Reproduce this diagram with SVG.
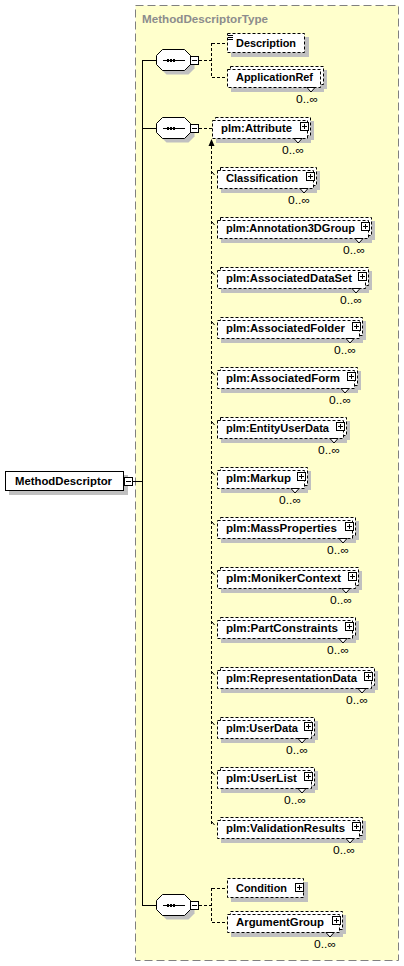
<svg xmlns="http://www.w3.org/2000/svg" xmlns:xlink="http://www.w3.org/1999/xlink" width="404" height="966" viewBox="0 0 404 966">
<style>
.sh{fill:#c0c0c0}
.bx{fill:#fff;stroke:#000;stroke-dasharray:3,2}
.sb{fill:#fff;stroke:#000}
.t{font-family:"Liberation Sans",Arial,sans-serif;font-size:11px;font-weight:bold;fill:#000}
.m{font-family:"Liberation Sans",Arial,sans-serif;font-size:11px;fill:#000}
.dc{fill:none;stroke:#000;stroke-dasharray:3,2}
.sc{fill:none;stroke:#000}
.v{fill:#fff;stroke:#000}
.ti{font-family:"Liberation Sans",Arial,sans-serif;font-size:11px;font-weight:bold;fill:#8c8c8c}
</style>
<defs>
<g id="plus" shape-rendering="crispEdges"><rect x="0.5" y="0.5" width="8" height="8" fill="#fff" stroke="#000"/><path d="M2 4.5H7M4.5 2V7" stroke="#000"/></g>
<g id="minus" shape-rendering="crispEdges"><rect x="0.5" y="0.5" width="8" height="8" fill="#fff" stroke="#000"/><path d="M2 4.5H7" stroke="#000"/></g>
<g id="seq">
<polygon class="sh" points="160.5,-0.5 166.5,-6.5 188.5,-6.5 194.5,-0.5 194.5,8.5 188.5,14.5 166.5,14.5 160.5,8.5"/>
<polygon class="sb" points="156.5,-4.5 162.5,-10.5 184.5,-10.5 190.5,-4.5 190.5,4.5 184.5,10.5 162.5,10.5 156.5,4.5"/>
<path d="M163 0.5H185" stroke="#000"/>
<rect x="167" y="-1" width="2" height="3"/><rect x="170" y="-1" width="2" height="3"/><rect x="173" y="-1" width="2" height="3"/>
<use xlink:href="#minus" x="190" y="-4"/>
</g>
</defs>

<rect x="135.5" y="5.5" width="263" height="955" fill="#ffffcc" stroke="#808080" stroke-dasharray="8,4"/>
<text class="ti" x="142" y="23" textLength="126" lengthAdjust="spacingAndGlyphs">MethodDescriptorType</text>

<g id="connectors">
<path class="sc" shape-rendering="crispEdges" d="M133 481.5H142.5M142.5 60V906M142 60.5H157M142 128.5H157M142 905.5H157"/>
<path class="dc" shape-rendering="crispEdges" d="M199 60.5H211.5M211.5 43V78M211.5 43.5H227M211.5 77.5H227"/>
<path class="dc" shape-rendering="crispEdges" d="M199 128.5H212M211.5 146V824"/>
<path class="dc" shape-rendering="crispEdges" d="M199 905.5H211.5M211.5 888V923M211.5 888.5H227M211.5 922.5H227"/>
<polygon points="211.5,139 208.5,146 214.5,146"/>
<path d="M213.5 134.5L217 131" stroke="#000"/>
<polygon points="219,129 214.5,130.5 217.5,133.5"/>
<path stroke="#000" d="M212 172L214.5 175M212 222L214.5 225M212 272L214.5 275M212 322L214.5 325M212 372L214.5 375M212 422L214.5 425M212 472L214.5 475M212 522L214.5 525M212 572L214.5 575M212 622L214.5 625M212 672L214.5 675M212 722L214.5 725M212 772L214.5 775M212 822L214.5 825"/>
</g>

<g id="MethodDescriptor">
<rect class="sh" x="9" y="475" width="119" height="20"/>
<rect class="sb" x="5.5" y="471.5" width="118" height="19"/>
<text class="t" x="15" y="485" textLength="97" lengthAdjust="spacingAndGlyphs">MethodDescriptor</text>
<use xlink:href="#minus" x="124" y="477"/>
</g>

<g id="seq1"><use xlink:href="#seq" y="60"/></g>
<g id="seq2"><use xlink:href="#seq" y="128"/></g>
<g id="seq3"><use xlink:href="#seq" y="905"/></g>

<g id="Description">
<rect class="sh" x="231" y="37" width="78" height="20"/>
<rect class="bx" x="227.5" y="33.5" width="77" height="19"/>
<path d="M228 35.5H233M228 37.5H233M228 39.5H233" stroke="#000" shape-rendering="crispEdges"/>
<text class="t" x="236" y="47" textLength="60" lengthAdjust="spacingAndGlyphs">Description</text>
</g>

<g id="ApplicationRef">
<rect class="sh" x="231" y="73" width="93" height="19"/><rect class="sh" x="234" y="70" width="93" height="19"/>
<rect class="bx" x="230.5" y="66.5" width="93" height="18"/><rect class="bx" x="227.5" y="69.5" width="93" height="18"/>
<text class="t" x="236" y="81" textLength="77" lengthAdjust="spacingAndGlyphs">ApplicationRef</text>
<polygon class="v" points="307,87.5 311,92 315,87.5"/>
<text class="m" x="296" y="103" textLength="22" lengthAdjust="spacingAndGlyphs">0..∞</text>
</g>

<g id="Attribute">
<rect class="sh" x="216" y="124" width="95" height="19"/><rect class="sh" x="219" y="121" width="95" height="19"/>
<rect class="bx" x="215.5" y="117.5" width="95" height="18"/><rect class="bx" x="212.5" y="120.5" width="95" height="18"/>
<text class="t" x="221" y="132" textLength="71" lengthAdjust="spacingAndGlyphs">plm:Attribute</text>
<use xlink:href="#plus" x="300" y="122"/>
<polygon class="v" points="294,138.5 298,143 302,138.5"/>
<text class="m" x="282" y="154" textLength="22" lengthAdjust="spacingAndGlyphs">0..∞</text>
</g>

<g id="Classification">
<rect class="sh" x="221" y="174" width="96" height="19"/><rect class="sh" x="224" y="171" width="96" height="19"/>
<rect class="bx" x="220.5" y="167.5" width="96" height="18"/><rect class="bx" x="217.5" y="170.5" width="96" height="18"/>
<text class="t" x="226" y="182" textLength="72" lengthAdjust="spacingAndGlyphs">Classification</text>
<use xlink:href="#plus" x="306" y="172"/>
<polygon class="v" points="300,188.5 304,193 308,188.5"/>
<text class="m" x="288" y="204" textLength="22" lengthAdjust="spacingAndGlyphs">0..∞</text>
</g>

<g id="Annotation3DGroup">
<rect class="sh" x="221" y="224" width="151" height="19"/><rect class="sh" x="224" y="221" width="151" height="19"/>
<rect class="bx" x="220.5" y="217.5" width="151" height="18"/><rect class="bx" x="217.5" y="220.5" width="151" height="18"/>
<text class="t" x="226" y="232" textLength="129" lengthAdjust="spacingAndGlyphs">plm:Annotation3DGroup</text>
<use xlink:href="#plus" x="361" y="222"/>
<polygon class="v" points="355,238.5 359,243 363,238.5"/>
<text class="m" x="343" y="254" textLength="22" lengthAdjust="spacingAndGlyphs">0..∞</text>
</g>

<g id="AssociatedDataSet">
<rect class="sh" x="221" y="274" width="148" height="19"/><rect class="sh" x="224" y="271" width="148" height="19"/>
<rect class="bx" x="220.5" y="267.5" width="148" height="18"/><rect class="bx" x="217.5" y="270.5" width="148" height="18"/>
<text class="t" x="226" y="282" textLength="126" lengthAdjust="spacingAndGlyphs">plm:AssociatedDataSet</text>
<use xlink:href="#plus" x="358" y="272"/>
<polygon class="v" points="352,288.5 356,293 360,288.5"/>
<text class="m" x="340" y="304" textLength="22" lengthAdjust="spacingAndGlyphs">0..∞</text>
</g>

<g id="AssociatedFolder">
<rect class="sh" x="221" y="324" width="142" height="19"/><rect class="sh" x="224" y="321" width="142" height="19"/>
<rect class="bx" x="220.5" y="317.5" width="142" height="18"/><rect class="bx" x="217.5" y="320.5" width="142" height="18"/>
<text class="t" x="226" y="332" textLength="119" lengthAdjust="spacingAndGlyphs">plm:AssociatedFolder</text>
<use xlink:href="#plus" x="352" y="322"/>
<polygon class="v" points="346,338.5 350,343 354,338.5"/>
<text class="m" x="334" y="354" textLength="22" lengthAdjust="spacingAndGlyphs">0..∞</text>
</g>

<g id="AssociatedForm">
<rect class="sh" x="221" y="374" width="137" height="19"/><rect class="sh" x="224" y="371" width="137" height="19"/>
<rect class="bx" x="220.5" y="367.5" width="137" height="18"/><rect class="bx" x="217.5" y="370.5" width="137" height="18"/>
<text class="t" x="226" y="382" textLength="114" lengthAdjust="spacingAndGlyphs">plm:AssociatedForm</text>
<use xlink:href="#plus" x="347" y="372"/>
<polygon class="v" points="341,388.5 345,393 349,388.5"/>
<text class="m" x="329" y="404" textLength="22" lengthAdjust="spacingAndGlyphs">0..∞</text>
</g>

<g id="EntityUserData">
<rect class="sh" x="221" y="424" width="126" height="19"/><rect class="sh" x="224" y="421" width="126" height="19"/>
<rect class="bx" x="220.5" y="417.5" width="126" height="18"/><rect class="bx" x="217.5" y="420.5" width="126" height="18"/>
<text class="t" x="226" y="432" textLength="103" lengthAdjust="spacingAndGlyphs">plm:EntityUserData</text>
<use xlink:href="#plus" x="336" y="422"/>
<polygon class="v" points="330,438.5 334,443 338,438.5"/>
<text class="m" x="318" y="454" textLength="22" lengthAdjust="spacingAndGlyphs">0..∞</text>
</g>

<g id="Markup">
<rect class="sh" x="221" y="474" width="87" height="19"/><rect class="sh" x="224" y="471" width="87" height="19"/>
<rect class="bx" x="220.5" y="467.5" width="87" height="18"/><rect class="bx" x="217.5" y="470.5" width="87" height="18"/>
<text class="t" x="226" y="482" textLength="65" lengthAdjust="spacingAndGlyphs">plm:Markup</text>
<use xlink:href="#plus" x="297" y="472"/>
<polygon class="v" points="291,488.5 295,493 299,488.5"/>
<text class="m" x="279" y="504" textLength="22" lengthAdjust="spacingAndGlyphs">0..∞</text>
</g>

<g id="MassProperties">
<rect class="sh" x="221" y="524" width="135" height="19"/><rect class="sh" x="224" y="521" width="135" height="19"/>
<rect class="bx" x="220.5" y="517.5" width="135" height="18"/><rect class="bx" x="217.5" y="520.5" width="135" height="18"/>
<text class="t" x="226" y="532" textLength="111" lengthAdjust="spacingAndGlyphs">plm:MassProperties</text>
<use xlink:href="#plus" x="345" y="522"/>
<polygon class="v" points="339,538.5 343,543 347,538.5"/>
<text class="m" x="327" y="554" textLength="22" lengthAdjust="spacingAndGlyphs">0..∞</text>
</g>

<g id="MonikerContext">
<rect class="sh" x="221" y="574" width="138" height="19"/><rect class="sh" x="224" y="571" width="138" height="19"/>
<rect class="bx" x="220.5" y="567.5" width="138" height="18"/><rect class="bx" x="217.5" y="570.5" width="138" height="18"/>
<text class="t" x="226" y="582" textLength="115" lengthAdjust="spacingAndGlyphs">plm:MonikerContext</text>
<use xlink:href="#plus" x="348" y="572"/>
<polygon class="v" points="342,588.5 346,593 350,588.5"/>
<text class="m" x="330" y="604" textLength="22" lengthAdjust="spacingAndGlyphs">0..∞</text>
</g>

<g id="PartConstraints">
<rect class="sh" x="221" y="624" width="135" height="19"/><rect class="sh" x="224" y="621" width="135" height="19"/>
<rect class="bx" x="220.5" y="617.5" width="135" height="18"/><rect class="bx" x="217.5" y="620.5" width="135" height="18"/>
<text class="t" x="226" y="632" textLength="112" lengthAdjust="spacingAndGlyphs">plm:PartConstraints</text>
<use xlink:href="#plus" x="345" y="622"/>
<polygon class="v" points="339,638.5 343,643 347,638.5"/>
<text class="m" x="327" y="654" textLength="22" lengthAdjust="spacingAndGlyphs">0..∞</text>
</g>

<g id="RepresentationData">
<rect class="sh" x="221" y="674" width="154" height="19"/><rect class="sh" x="224" y="671" width="154" height="19"/>
<rect class="bx" x="220.5" y="667.5" width="154" height="18"/><rect class="bx" x="217.5" y="670.5" width="154" height="18"/>
<text class="t" x="226" y="682" textLength="131" lengthAdjust="spacingAndGlyphs">plm:RepresentationData</text>
<use xlink:href="#plus" x="364" y="672"/>
<polygon class="v" points="358,688.5 362,693 366,688.5"/>
<text class="m" x="346" y="704" textLength="22" lengthAdjust="spacingAndGlyphs">0..∞</text>
</g>

<g id="UserData">
<rect class="sh" x="221" y="724" width="94" height="19"/><rect class="sh" x="224" y="721" width="94" height="19"/>
<rect class="bx" x="220.5" y="717.5" width="94" height="18"/><rect class="bx" x="217.5" y="720.5" width="94" height="18"/>
<text class="t" x="226" y="732" textLength="72" lengthAdjust="spacingAndGlyphs">plm:UserData</text>
<use xlink:href="#plus" x="304" y="722"/>
<polygon class="v" points="298,738.5 302,743 306,738.5"/>
<text class="m" x="286" y="754" textLength="22" lengthAdjust="spacingAndGlyphs">0..∞</text>
</g>

<g id="UserList">
<rect class="sh" x="221" y="774" width="94" height="19"/><rect class="sh" x="224" y="771" width="94" height="19"/>
<rect class="bx" x="220.5" y="767.5" width="94" height="18"/><rect class="bx" x="217.5" y="770.5" width="94" height="18"/>
<text class="t" x="226" y="782" textLength="71" lengthAdjust="spacingAndGlyphs">plm:UserList</text>
<use xlink:href="#plus" x="304" y="772"/>
<polygon class="v" points="298,788.5 302,793 306,788.5"/>
<text class="m" x="284" y="804" textLength="22" lengthAdjust="spacingAndGlyphs">0..∞</text>
</g>

<g id="ValidationResults">
<rect class="sh" x="221" y="824" width="142" height="19"/><rect class="sh" x="224" y="821" width="142" height="19"/>
<rect class="bx" x="220.5" y="817.5" width="142" height="18"/><rect class="bx" x="217.5" y="820.5" width="142" height="18"/>
<text class="t" x="226" y="832" textLength="119" lengthAdjust="spacingAndGlyphs">plm:ValidationResults</text>
<use xlink:href="#plus" x="352" y="822"/>
<polygon class="v" points="346,838.5 350,843 354,838.5"/>
<text class="m" x="333" y="854" textLength="22" lengthAdjust="spacingAndGlyphs">0..∞</text>
</g>

<g id="Condition">
<rect class="sh" x="231" y="882" width="77" height="20"/>
<rect class="bx" x="227.5" y="878.5" width="76" height="19"/>
<text class="t" x="236" y="892" textLength="51" lengthAdjust="spacingAndGlyphs">Condition</text>
<use xlink:href="#plus" x="295" y="883"/>
</g>

<g id="ArgumentGroup">
<rect class="sh" x="231" y="918" width="112" height="19"/><rect class="sh" x="234" y="915" width="112" height="19"/>
<rect class="bx" x="230.5" y="911.5" width="112" height="18"/><rect class="bx" x="227.5" y="914.5" width="112" height="18"/>
<text class="t" x="236" y="926" textLength="88" lengthAdjust="spacingAndGlyphs">ArgumentGroup</text>
<use xlink:href="#plus" x="332" y="916"/>
<polygon class="v" points="326,932.5 330,937 334,932.5"/>
<text class="m" x="314" y="948" textLength="22" lengthAdjust="spacingAndGlyphs">0..∞</text>
</g>
</svg>
